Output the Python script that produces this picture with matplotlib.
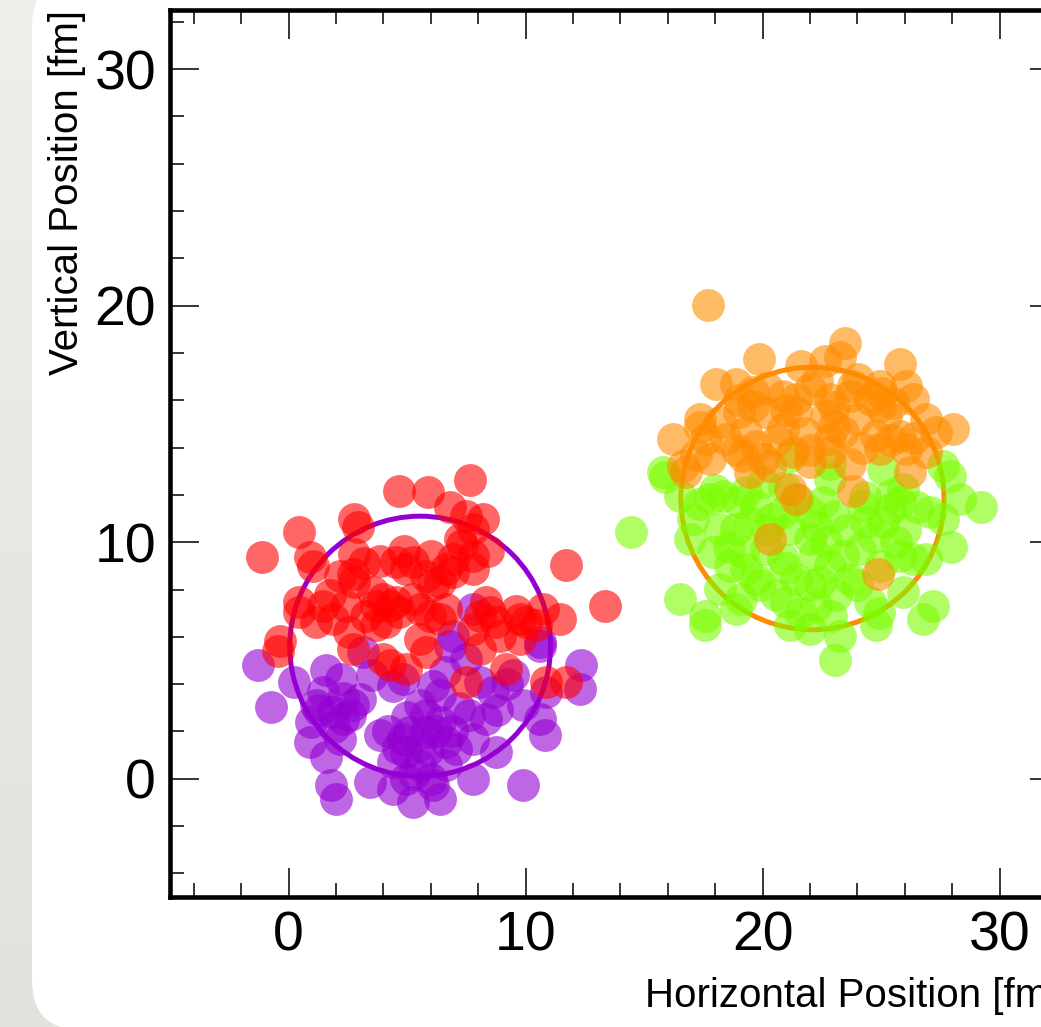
import matplotlib
matplotlib.use("Agg")
import matplotlib.pyplot as plt
from matplotlib.patches import Circle, FancyBboxPatch
from matplotlib.colors import LinearSegmentedColormap
from matplotlib.ticker import MultipleLocator
import numpy as np

plt.rcParams['font.family'] = ['Liberation Sans', 'DejaVu Sans']

# nucleon positions, nucleus A (lower part / upper part)
purple_x = [-1.30, -0.73, 0.25, 1.59, 1.45, 1.17, 1.87, 2.29, 2.71, 3.00, 0.96, 0.89, 2.15, 1.59,
            1.80, 2.01, 3.42, 3.84, 4.40, 5.24, 6.37, 6.09, 7.78, 8.76, 9.89, 4.82, 4.97, 5.53,
            5.81, 6.37, 6.65, 7.07, 7.78, 4.40, 5.53, 6.65, 4.97, 5.53, 6.37, 6.09, 4.82, 4.40,
            8.33, 8.06, 8.62, 9.89, 10.59, 10.80, 10.87, 12.28, 12.35, 9.46, 10.59, 6.79, 3.14,
            7.50, 6.94, 7.78, 10.59,
            5.10, 5.90, 4.60, 6.20, 5.00, 5.80, 4.20, 6.90, 5.30, 6.00, 2.30, 1.90, 2.60, 1.30,
            7.20, 8.80, 9.20, 7.60, 3.50, 2.20, 6.60]
purple_y = [4.79, 3.03, 4.09, 4.58, 3.66, 3.10, 2.82, 2.54, 3.10, 3.38, 2.40, 1.54, 1.69, 0.92,
            -0.28, -0.85, -0.14, 1.83, -0.42, -0.99, -0.85, -0.28, 0.00, 1.13, -0.28, 1.69, 1.13, 1.41,
            1.97, 2.40, 1.54, 1.27, 1.69, 0.70, 0.56, 0.56, 0.00, 3.10, 3.52, 3.94, 4.22, 3.94,
            2.54, 4.09, 3.66, 3.10, 2.54, 1.83, 3.66, 3.80, 4.79, 4.37, 5.63, 5.63, 5.35,
            5.07, 6.05, 7.18, 5.77,
            1.97, 1.20, 1.30, 2.00, 2.60, 2.70, 2.00, 2.00, 0.20, 0.00, 3.40, 2.20, 2.70, 2.90,
            3.00, 2.90, 4.00, 2.70, 4.40, 4.20, 4.50]

red_x = [-1.11, 0.46, 2.76, 2.93, 4.68, 5.88, 7.66, 6.79, 7.50, 8.20, 7.78, 7.22, 8.41, 7.78,
         7.78, 11.72, 13.36, 0.89, 1.03, 2.78, 2.71, 3.84, 4.89, 4.54, 4.97, 2.78, 5.81, 6.37,
         6.09, 6.94, 0.46, 0.46, 1.73, 1.17, 1.87, 3.28, 3.98, 4.26, 5.24, 5.53, 3.70, 6.37,
         8.33, 8.48, 8.06, 9.61, 9.75, 10.73, 11.43, 10.45, -0.38, 7.78, 5.53, -0.45, 2.71,
         3.98, 4.26, 4.97, 5.81, 8.06, 7.50, 9.18, 10.87, 11.72, 9.75, 2.43, 2.57,
         3.56, 4.54, 6.65, 6.94, 5.24, 3.70, 4.68, 4.12, 5.95, 6.65, 2.15, 1.45, 8.76, 10.03,
         8.90, 7.30, 6.00, 3.20]
red_y = [9.37, 10.42, 11.00, 10.63, 12.18, 12.11, 12.64, 11.47, 11.12, 11.00, 10.56, 10.14, 9.64, 9.43,
         8.87, 9.04, 7.32, 9.37, 9.01, 9.51, 8.66, 9.22, 9.64, 9.15, 8.87, 8.31, 8.59, 8.31,
         8.17, 8.73, 7.46, 7.03, 7.75, 6.62, 6.76, 6.90, 7.60, 7.32, 7.60, 7.18, 6.48, 6.76,
         7.46, 7.03, 6.90, 7.10, 6.76, 7.18, 6.76, 6.48, 5.84, 6.34, 5.91, 5.42, 5.49,
         5.07, 4.79, 4.65, 5.35, 5.49, 4.09, 4.65, 4.09, 4.09, 5.91, 7.32, 6.20,
         7.89, 7.46, 8.87, 9.29, 9.15, 7.32, 7.03, 6.62, 6.90, 7.18, 8.59, 7.32, 6.62, 6.62,
         6.05, 9.90, 9.40, 9.10]

# nucleon positions, nucleus B (lower part / upper part)
green_x = [14.43, 15.86, 16.50, 17.06, 16.92, 17.76, 18.33, 19.31, 20.01, 18.19, 18.89, 19.45,
           17.90, 18.61, 19.31, 18.19, 18.89, 16.50, 17.55, 17.55, 20.86, 21.14, 22.26, 22.68,
           21.98, 22.55, 22.83, 24.23, 24.37, 25.36, 25.78, 25.92, 27.05, 27.61, 28.31, 29.23,
           27.89, 27.96, 26.90, 25.64, 25.78, 23.39, 24.09, 23.67, 23.11, 21.98, 21.42, 20.57,
           20.99, 22.26, 21.14, 21.98, 23.25, 23.04, 24.79, 24.51, 25.92, 27.19, 26.76, 26.34,
           25.08, 19.73, 20.86, 22.83, 21.98, 20.15, 19.73, 19.17, 15.79, 27.61, 25.08, 22.83,
           21.14,
           19.00, 20.40, 21.50, 23.00, 24.70, 23.50, 22.20, 20.20, 18.60, 19.90, 21.00, 22.40,
           24.00, 25.00, 25.40, 26.50, 26.00, 24.30, 20.90, 18.00, 17.30, 19.10, 22.90, 24.90,
           21.60]
green_y = [10.42, 12.74, 11.97, 10.98, 10.14, 11.83, 11.97, 12.11, 12.53, 10.56, 10.56, 10.84,
           9.58, 9.01, 8.87, 8.03, 7.18, 7.60, 6.90, 6.48, 9.29, 10.56, 10.70, 10.00,
           11.26, 11.68, 12.67, 11.55, 10.84, 11.41, 11.68, 12.25, 11.26, 10.98, 11.83, 11.50,
           12.81, 9.78, 9.29, 10.00, 9.43, 9.43, 9.72, 8.45, 7.75, 8.17, 8.45, 7.75,
           7.46, 7.32, 6.48, 6.34, 6.05, 5.00, 6.48, 7.46, 7.89, 7.32, 6.76, 9.29,
           10.84, 11.55, 11.26, 9.01, 10.14, 9.72, 8.45, 9.58, 12.95, 13.24, 13.10, 13.31,
           13.66,
           11.70, 11.00, 11.80, 11.10, 10.20, 10.50, 9.50, 10.50, 9.80, 8.20, 8.90, 8.30,
           8.20, 9.00, 12.00, 11.50, 10.50, 11.90, 12.30, 12.20, 11.60, 7.60, 6.90, 7.00,
           7.00]

orange_x = [17.69, 19.83, 21.63, 22.62, 23.46, 23.25, 25.78, 18.05, 18.89, 19.59, 24.02, 24.94,
            26.06, 26.34, 21.98, 20.86, 21.42, 22.83, 23.67, 24.51, 19.59, 20.15, 21.42, 22.68,
            24.94, 25.22, 26.90, 28.03, 17.34, 18.19, 17.34, 16.22, 17.62, 18.46, 19.31, 19.73,
            20.86, 23.39, 22.83, 24.79, 25.78, 27.32, 26.05, 26.89, 16.64, 17.76, 19.17, 21.28,
            22.83, 23.67, 24.94, 20.30, 21.98, 21.14, 20.30, 23.81, 24.86, 16.78, 19.45, 26.20,
            21.42,
            19.00, 20.20, 21.00, 22.30, 23.00, 24.00, 25.50, 21.80, 23.00, 24.20, 25.40, 18.90,
            20.00, 22.00, 17.20, 26.40, 20.60, 23.80, 25.00, 19.00]
orange_y = [20.03, 17.74, 17.44, 17.67, 18.42, 17.81, 17.53, 16.69, 16.69, 16.34, 16.90, 16.62,
            16.62, 16.05, 16.48, 16.19, 16.05, 16.05, 16.19, 16.05, 15.77, 15.49, 15.49, 15.35,
            15.77, 15.35, 15.21, 14.79, 15.21, 15.07, 14.85, 14.36, 14.36, 14.36, 14.64, 14.08,
            14.79, 14.64, 14.36, 14.50, 14.50, 14.64, 13.94, 13.80, 13.24, 13.52, 13.66, 13.80,
            13.80, 13.31, 13.94, 13.24, 13.38, 12.25, 10.14, 12.18, 8.66, 12.95, 12.95, 12.95,
            11.83,
            15.50, 16.50, 15.60, 16.80, 15.70, 15.20, 15.90, 14.60, 14.90, 14.00, 14.30, 13.90,
            13.50, 13.90, 13.70, 14.40, 14.30, 16.60, 16.30, 16.00]

# nucleus outlines: centre x, centre y, radius
ring_x = [5.55, 22.10]
ring_y = [5.60, 11.85]
ring_r = [5.50, 5.55]
ring_c = ['darkviolet', 'darkorange']

fig = plt.figure(figsize=(10.41, 10.27), dpi=100)
fig.patch.set_facecolor('#e9e7e2')

# paper backdrop with a white rounded card on it
bg = fig.add_axes([0, 0, 1, 1], zorder=-5)
bg.set_xlim(0, 1041)
bg.set_ylim(1027, 0)
bg.axis('off')
grad = np.linspace(0, 1, 64)[:, None] * np.ones((1, 8))
paper = LinearSegmentedColormap.from_list('paper', ['#f0eee9', '#e2e1dd'])
bg.imshow(grad, cmap=paper, extent=[0, 1041, 1027, 0], aspect='auto')
bg.add_patch(FancyBboxPatch((82, 27), 1100, 953, boxstyle='round,pad=50',
                            facecolor='white', edgecolor='none'))

ax = fig.add_axes([170 / 1041, 130 / 1027, 889 / 1041, 887 / 1027])
ax.set_facecolor('white')

for cx, cy, r, c in zip(ring_x, ring_y, ring_r, ring_c):
    ax.add_patch(Circle((cx, cy), r, fill=False, edgecolor=c, linewidth=3.6, zorder=1))

size = 560
ax.scatter(purple_x, purple_y, s=size, color='darkviolet', alpha=0.6, linewidths=0, zorder=2)
ax.scatter(red_x, red_y, s=size, color='red', alpha=0.6, linewidths=0, zorder=2)
ax.scatter(green_x, green_y, s=size, color='lawngreen', alpha=0.6, linewidths=0, zorder=2)
ax.scatter(orange_x, orange_y, s=size, color='darkorange', alpha=0.6, linewidths=0, zorder=2)

ax.set_xlim(-5, 32.5)
ax.set_ylim(-5, 32.5)
ax.xaxis.set_major_locator(MultipleLocator(10))
ax.xaxis.set_minor_locator(MultipleLocator(2))
ax.yaxis.set_major_locator(MultipleLocator(10))
ax.yaxis.set_minor_locator(MultipleLocator(2))
ax.tick_params(which='both', direction='in', top=True, right=True, labelsize=40, pad=10)
ax.tick_params(which='major', length=21, width=1.1)
ax.tick_params(which='minor', length=10, width=1.1)
for sp in ax.spines.values():
    sp.set_linewidth(3.3)

ax.set_xlabel('Horizontal Position [fm]', fontsize=29, loc='right', labelpad=10)
ax.set_ylabel('Vertical Position [fm]', fontsize=29, loc='top', labelpad=6)

fig.savefig('out.png', dpi=100)
